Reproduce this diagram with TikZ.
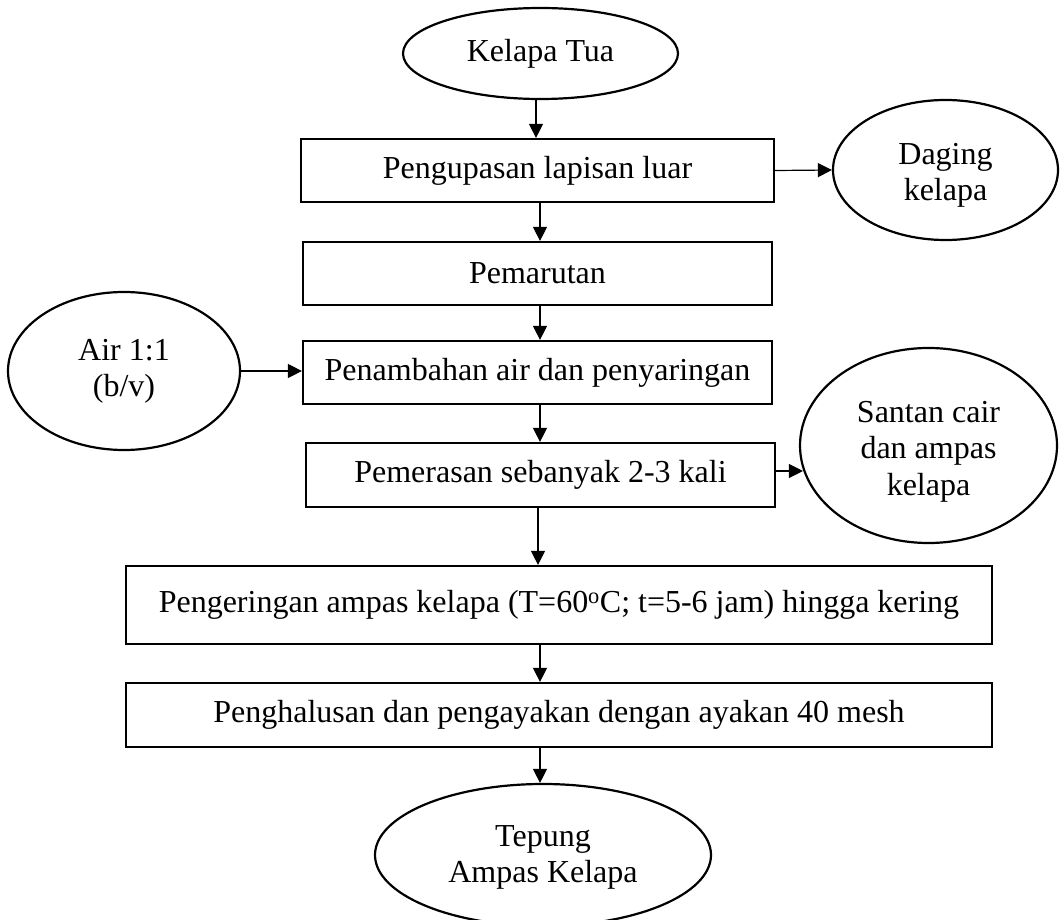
\documentclass[tikz,border=0pt]{standalone}
\usepackage{fontspec}
\setmainfont{Liberation Serif}
\usetikzlibrary{shapes.geometric,arrows.meta}
\newcommand{\lowtext}[2]{\raisebox{-#1}[\height][\depth]{\begin{tabular}{@{}c@{}}#2\end{tabular}}}
\begin{document}
\begin{tikzpicture}[x=1pt,y=-1pt,
  box/.style={draw, line width=2.2pt, rectangle, inner sep=0pt, align=center, font=\fontsize{32}{36.5}\selectfont},
  oval/.style={draw, line width=2.2pt, ellipse, inner sep=0pt, align=center, font=\fontsize{32}{36.5}\selectfont},
  arr/.style={line width=1.2pt, -{Triangle[length=14pt,width=14pt]}}]
\useasboundingbox (0,0) rectangle (1060,920);
\node[oval, minimum width=275pt, minimum height=91pt] (kt) at (540.5,53.5) {Kelapa Tua};
\node[box, minimum width=473pt, minimum height=63pt] (b1) at (537.5,170.5) {Pengupasan lapisan luar};
\node[oval, minimum width=225pt, minimum height=140pt] (dg) at (945.5,170) {\lowtext{5pt}{Daging\\kelapa}};
\node[box, minimum width=469pt, minimum height=63pt] (b2) at (537.5,273.5) {Pemarutan};
\node[oval, minimum width=232pt, minimum height=158pt] (air) at (124,371) {\lowtext{0pt}{Air 1:1\\(b/v)}};
\node[box, minimum width=469pt, minimum height=63pt] (b3) at (537.5,372.5) {Penambahan air dan penyaringan};
\node[box, minimum width=469pt, minimum height=64pt] (b4) at (540.5,475) {Pemerasan sebanyak 2-3 kali};
\node[oval, minimum width=257pt, minimum height=195pt] (sc) at (928.5,445.5) {\lowtext{6pt}{Santan cair\\dan ampas\\kelapa}};
\node[box, minimum width=866pt, minimum height=78pt] (b5) at (559,605) {Pengeringan ampas kelapa (T=60\textsuperscript{o}C; t=5-6 jam) hingga kering};
\node[box, minimum width=866pt, minimum height=64pt] (b6) at (559,715) {Penghalusan dan pengayakan dengan ayakan 40 mesh};
\node[oval, minimum width=336pt, minimum height=142pt] (tp) at (543,855) {\lowtext{2pt}{Tepung\\Ampas Kelapa}};
\coordinate (a0) at (536,0);
\coordinate (ax) at (540,0);
\coordinate (ay) at (538,0);
\draw[arr] (kt.south -| a0) -- (b1.north -| a0);
\draw[arr] (b1.south -| ax) -- (b2.north -| ax);
\draw[arr] (b2.south -| ax) -- (b3.north -| ax);
\draw[arr] (b3.south -| ax) -- (b4.north -| ax);
\draw[arr] (b4.south -| ay) -- (b5.north -| ay);
\draw[arr] (b5.south -| ax) -- (b6.north -| ax);
\draw[arr] (b6.south -| ax) -- (tp.north -| ax);
\draw[arr] (b1.east) -- (dg.west);
\draw[arr] (air.east) -- (air.east -| b3.west);
\draw[arr] ([yshift=4pt]b4.east) -- ([yshift=4pt]b4.east -| sc.191.6);
\end{tikzpicture}
\end{document}
